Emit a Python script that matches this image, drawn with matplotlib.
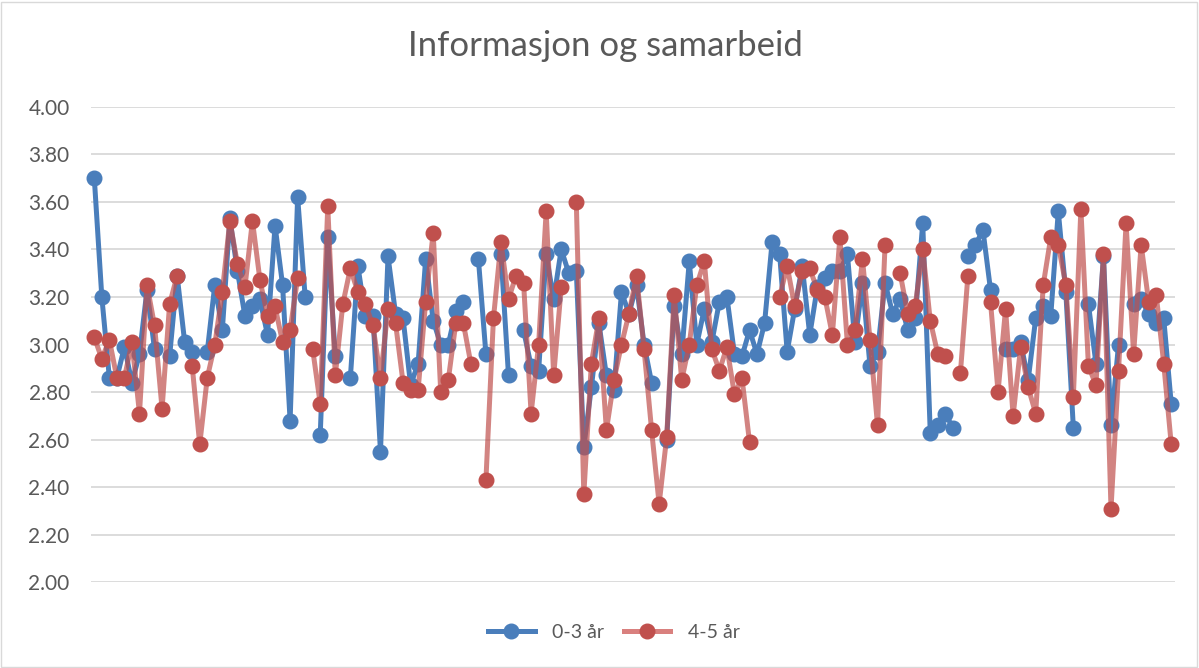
import numpy as np
import matplotlib.pyplot as plt
from matplotlib.patches import Rectangle

nan = np.nan

tittel = 'Informasjon og samarbeid'
serie_navn = ['0-3 år', '4-5 år']

# gjennomsnitt per enhet, 0-3 år (nan = mangler)
alder_0_3 = [
    3.70, 3.20, 2.86, 2.86, 2.99, 2.84, 2.96, 3.23, 2.98, nan,
    2.95, 3.29, 3.01, 2.97, nan, 2.97, 3.25, 3.06, 3.53, 3.31,
    3.12, 3.16, 3.19, 3.04, 3.50, 3.25, 2.68, 3.62, 3.20, nan,
    2.62, 3.45, 2.95, nan, 2.86, 3.33, 3.12, 3.12, 2.55, 3.37,
    3.13, 3.11, 2.83, 2.92, 3.36, 3.10, 3.00, 3.00, 3.14, 3.18,
    nan, 3.36, 2.96, nan, 3.38, 2.87, nan, 3.06, 2.91, 2.89,
    3.38, 3.19, 3.40, 3.30, 3.31, 2.57, 2.82, 3.09, 2.87, 2.81,
    3.22, 3.13, 3.25, 3.00, 2.84, nan, 2.60, 3.16, 2.96, 3.35,
    3.00, 3.15, 3.01, 3.18, 3.20, 2.96, 2.95, 3.06, 2.96, 3.09,
    3.43, 3.38, 2.97, 3.15, 3.33, 3.04, 3.24, 3.28, 3.31, 3.31,
    3.38, 3.01, 3.26, 2.91, 2.97, 3.26, 3.13, 3.19, 3.06, 3.11,
    3.51, 2.63, 2.66, 2.71, 2.65, nan, 3.37, 3.42, 3.48, 3.23,
    nan, 2.98, 2.98, 3.01, 2.85, 3.11, 3.16, 3.12, 3.56, 3.22,
    2.65, nan, 3.17, 2.92, 3.37, 2.66, 3.00, nan, 3.17, 3.19,
    3.13, 3.09, 3.11, 2.75,
]

# gjennomsnitt per enhet, 4-5 år
alder_4_5 = [
    3.03, 2.94, 3.02, 2.86, 2.86, 3.01, 2.71, 3.25, 3.08, 2.73,
    3.17, 3.29, nan, 2.91, 2.58, 2.86, 3.00, 3.22, 3.52, 3.34,
    3.24, 3.52, 3.27, 3.12, 3.16, 3.01, 3.06, 3.28, nan, 2.98,
    2.75, 3.58, 2.87, 3.17, 3.32, 3.22, 3.17, 3.08, 2.86, 3.15,
    3.09, 2.84, 2.81, 2.81, 3.18, 3.47, 2.80, 2.85, 3.09, 3.09,
    2.92, nan, 2.43, 3.11, 3.43, 3.19, 3.29, 3.26, 2.71, 3.00,
    3.56, 2.87, 3.24, nan, 3.60, 2.37, 2.92, 3.11, 2.64, 2.85,
    3.00, 3.13, 3.29, 2.98, 2.64, 2.33, 2.61, 3.21, 2.85, 3.00,
    3.25, 3.35, 2.98, 2.89, 2.99, 2.79, 2.86, 2.59, nan, nan,
    nan, 3.20, 3.33, 3.16, 3.31, 3.32, 3.23, 3.20, 3.04, 3.45,
    3.00, 3.06, 3.36, 3.02, 2.66, 3.42, nan, 3.30, 3.13, 3.16,
    3.40, 3.10, 2.96, 2.95, nan, 2.88, 3.29, nan, nan, 3.18,
    2.80, 3.15, 2.70, 2.99, 2.82, 2.71, 3.25, 3.45, 3.42, 3.25,
    2.78, 3.57, 2.91, 2.83, 3.38, 2.31, 2.89, 3.51, 2.96, 3.42,
    3.18, 3.21, 2.92, 2.58,
]

y_ticks = [2.00, 2.20, 2.40, 2.60, 2.80, 3.00, 3.20, 3.40, 3.60, 3.80, 4.00]

plt.rcParams['font.family'] = ['Lato', 'DejaVu Sans']
grå = '#595959'

fig = plt.figure(figsize=(11.99, 6.68), dpi=100)
ax = fig.add_axes([0.0755, 0.128, 0.9045, 0.7125])

x = np.arange(len(alder_0_3))
blå = np.array(alder_0_3)
rød = np.array(alder_4_5)

ax.plot(x, blå, color='#4A7EBB', lw=3.6, marker='o', ms=10.5,
        mfc='#4A7EBB', mec='#4A7EBB', label=serie_navn[0], zorder=3, clip_on=False)
ax.plot(x, rød, color='#C0504D', lw=3.6, alpha=0.7, zorder=4, clip_on=False)
ax.plot(x, rød, color='none', marker='o', ms=10.5,
        mfc='#C0504D', mec='#C0504D', zorder=5, clip_on=False)
# legend-handle for 4-5 år
ax.plot([], [], color='#D9807E', lw=3.6, marker='o', ms=10.5,
        mfc='#C0504D', mec='#C0504D', label=serie_navn[1])

ax.set_ylim(2, 4)
ax.set_xlim(-0.5, len(x) - 0.5)
ax.set_yticks(y_ticks)
ax.set_yticklabels([f'{v:.2f}' for v in y_ticks])
ax.set_xticks([])
ax.tick_params(axis='y', length=0, labelsize=15, colors=grå, pad=15)
ax.grid(axis='y', color='#D9D9D9', lw=1.3)
ax.set_axisbelow(True)
for s in ax.spines.values():
    s.set_visible(False)

fig.suptitle(tittel, y=0.955, x=0.505, fontsize=25, color=grå)

fig.legend(loc='center', bbox_to_anchor=(0.512, 0.053), ncol=2, frameon=False,
           fontsize=14, labelcolor=grå, handlelength=2.4, handletextpad=0.9,
           columnspacing=1.0)

fig.patches.append(Rectangle((0.001, 0.002), 0.997, 0.995, transform=fig.transFigure,
                             fill=False, ec='#D9D9D9', lw=1))

fig.savefig('out.png', dpi=100)
